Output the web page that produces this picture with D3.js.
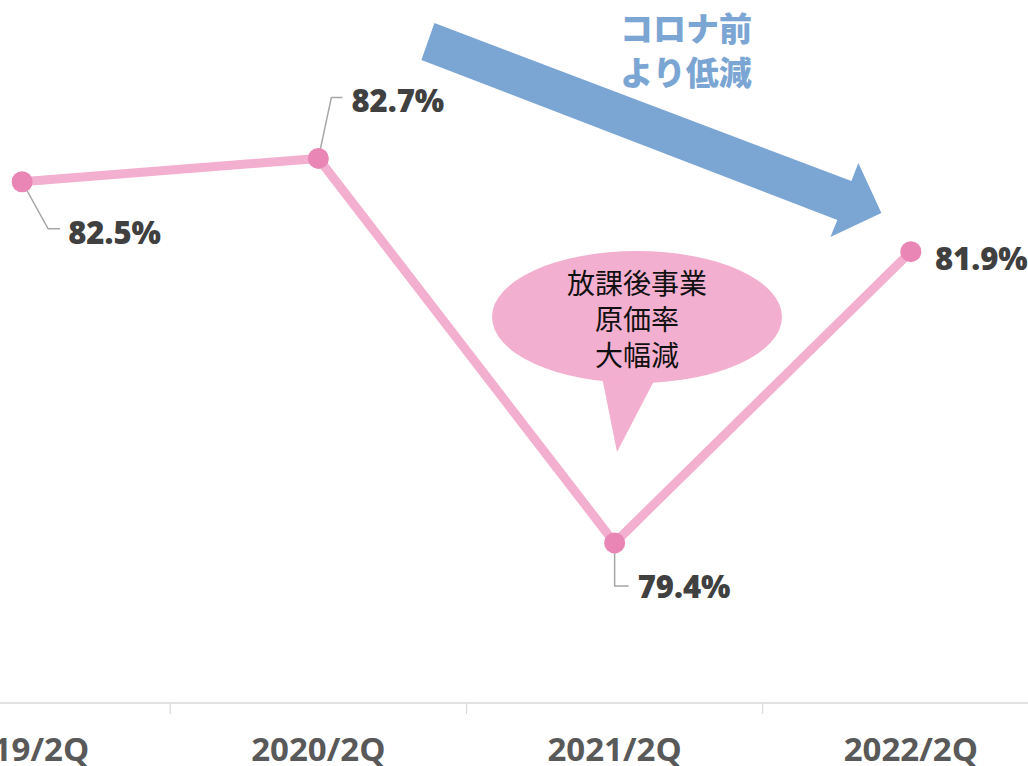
<!DOCTYPE html>
<html>
<head>
<meta charset="utf-8">
<script src="https://cdn.jsdelivr.net/npm/d3@7"></script>
<style>
  html, body { margin: 0; padding: 0; background: #fff; overflow: hidden; }
  svg { display: block; }
</style>
</head>
<body>
<div id="viz"></div>
<script>
const width = 1028;
const height = 766;
const plotBottom = 703;

const colorLine = '#F3AFCF';
const colorMarker = '#EA86B6';
const colorArrow = '#7BA6D3';
const colorLabel = '#404040';
const colorAxisText = '#595959';

// Data
const periods = ['2019/2Q', '2020/2Q', '2021/2Q', '2022/2Q'];
const ratios = [82.5, 82.7, 79.4, 81.9];
const valueLabels = ['82.5%', '82.7%', '79.4%', '81.9%'];
const calloutLines = ['放課後事業', '原価率', '大幅減'];
const arrowNoteLines = ['コロナ前', 'より低減'];

// Label placement relative to each point: [text dx, text dy, leader path]
const labelOffsets = [
  {dx: 46, dy: 62, leader: [[0, 0], [26, 47], [38, 47]]},
  {dx: 33, dy: -46, leader: [[0, 0], [13, -61], [24, -61]]},
  {dx: 23, dy: 55, leader: [[0, 0], [0, 43], [14, 43]]},
  {dx: 24, dy: 18, leader: null}
];

const data = periods.map((p, i) => ({period: p, value: ratios[i], label: valueLabels[i], off: labelOffsets[i]}));

// Scales
const xScale = d3.scaleBand()
  .domain(periods)
  .range([-126, 1059])
  .paddingInner(0)
  .paddingOuter(0);
const xMid = d => xScale(d) + xScale.bandwidth() / 2;

const yScale = d3.scaleLinear()
  .domain([78, 84])
  .range([706, 7]);

const svg = d3.select('#viz')
  .append('svg')
    .attr('width', width)
    .attr('height', height);

// X axis
const xAxisGroup = svg.append('g').attr('class', 'x-axis-group');
xAxisGroup.append('line')
  .attr('x1', 0).attr('x2', width)
  .attr('y1', plotBottom).attr('y2', plotBottom)
  .attr('stroke', '#D9D9D9')
  .attr('stroke-width', 1.5);
xAxisGroup.selectAll('.tick')
  .data(periods.slice(1))
  .join('line')
    .attr('class', 'tick')
    .attr('x1', d => xScale(d)).attr('x2', d => xScale(d))
    .attr('y1', plotBottom).attr('y2', plotBottom + 11)
    .attr('stroke', '#D9D9D9')
    .attr('stroke-width', 1.2);
xAxisGroup.selectAll('.period-label')
  .data(periods)
  .join('text')
    .attr('class', 'period-label')
    .attr('x', d => xMid(d))
    .attr('y', 761)
    .attr('text-anchor', 'middle')
    .attr('fill', colorAxisText)
    .style('font-family', '"Liberation Sans Narrow", "Open Sans", sans-serif')
    .style('font-weight', 'bold')
    .style('font-size', '33px')
    .text(d => d);

// Arrow annotation (from 2020/2Q area toward 2022/2Q)
const ax = xMid(periods[1]);
const arrowPts = [
  [116, 23], [533, 181], [540, 163], [563, 213], [512, 237], [519, 220], [103, 60]
].map(([dx, dy]) => [ax + dx, dy]);
svg.append('path')
  .attr('d', d3.line()(arrowPts) + 'Z')
  .attr('fill', colorArrow);

svg.append('g')
  .selectAll('text')
  .data(arrowNoteLines)
  .join('text')
    .attr('x', 686)
    .attr('y', (d, i) => 41 + i * 44)
    .attr('text-anchor', 'middle')
    .attr('fill', colorArrow)
    .style('font-family', '"Noto Sans CJK JP", sans-serif')
    .style('font-weight', '900')
    .style('font-size', '33px')
    .text(d => d);

// Line
const line = d3.line()
  .x(d => xMid(d.period))
  .y(d => yScale(d.value));
svg.append('path')
  .datum(data)
  .attr('d', line)
  .attr('fill', 'none')
  .attr('stroke', colorLine)
  .attr('stroke-width', 9);

// Callout bubble
const cx = 637, cy = 317;
const bubble = svg.append('g').attr('class', 'callout');
bubble.append('path')
  .attr('d', `M${cx - 35},${cy + 60} L${cx - 20},${cy + 135} L${cx + 18},${cy + 62} Z`)
  .attr('fill', colorLine);
bubble.append('ellipse')
  .attr('cx', cx).attr('cy', cy)
  .attr('rx', 145).attr('ry', 66)
  .attr('fill', colorLine);
bubble.selectAll('text')
  .data(calloutLines)
  .join('text')
    .attr('x', cx)
    .attr('y', (d, i) => 294 + i * 36)
    .attr('text-anchor', 'middle')
    .attr('fill', '#111')
    .style('font-family', '"Noto Sans CJK JP", sans-serif')
    .style('font-size', '28px')
    .text(d => d);

// Leader lines
svg.append('g')
  .selectAll('path')
  .data(data.filter(d => d.off.leader))
  .join('path')
    .attr('d', d => d3.line()(d.off.leader.map(([dx, dy]) => [xMid(d.period) + dx, yScale(d.value) + dy])))
    .attr('fill', 'none')
    .attr('stroke', '#A6A6A6')
    .attr('stroke-width', 1.5);

// Markers
svg.append('g')
  .selectAll('circle')
  .data(data)
  .join('circle')
    .attr('cx', d => xMid(d.period))
    .attr('cy', d => yScale(d.value))
    .attr('r', 10.5)
    .attr('fill', colorMarker);

// Value labels
svg.append('g')
  .selectAll('text')
  .data(data)
  .join('text')
    .attr('x', d => xMid(d.period) + d.off.dx)
    .attr('y', d => yScale(d.value) + d.off.dy)
    .attr('fill', colorLabel)
    .style('font-family', '"Open Sans", sans-serif')
    .style('font-weight', '800')
    .style('font-size', '31px')
    .text(d => d.label);
</script>
</body>
</html>
